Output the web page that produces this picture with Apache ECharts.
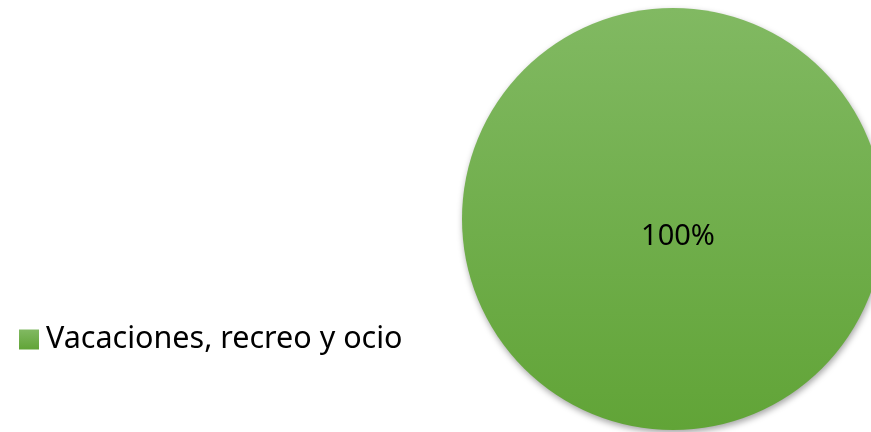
<!DOCTYPE html>
<html>
<head>
<meta charset="utf-8">
<script src="https://cdn.jsdelivr.net/npm/echarts@6/dist/echarts.min.js"></script>
<style>
  html, body { margin: 0; padding: 0; background: #fff; }
  #chart { width: 871px; height: 432px; }
</style>
</head>
<body>
<div id="chart"></div>
<script>
// data
const categories = ['Vacaciones, recreo y ocio'];
const values = [100];
const labels = ['100%'];

const chart = echarts.init(document.getElementById('chart'));

const green = new echarts.graphic.LinearGradient(0, 0, 0, 1, [
  { offset: 0, color: 'rgb(129,185,98)' },
  { offset: 1, color: 'rgb(97,164,55)' }
]);

const options = {
  animation: false,
  legend: {
    orient: 'vertical',
    left: 14,
    top: 319,
    icon: 'rect',
    itemWidth: 20,
    itemHeight: 20,
    itemGap: 10,
    data: categories,
    textStyle: {
      fontFamily: 'Noto Sans',
      fontSize: 30.5,
      color: '#000',
      padding: [0, 0, 0, 2]
    }
  },
  series: [
    {
      type: 'pie',
      center: [673, 219],
      radius: 211,
      startAngle: 90,
      label: {
        show: true,
        position: 'center',
        // empty first line pushes the value a bit below the centre, as in the source
        formatter: (p) => '{pad|}\n{v|' + labels[p.dataIndex] + '}',
        rich: {
          pad: { lineHeight: 36, fontSize: 28 },
          v: {
            lineHeight: 36,
            fontFamily: 'Noto Sans',
            fontSize: 29,
            color: '#000',
            padding: [0, 0, 0, 10]
          }
        }
      },
      labelLine: { show: false },
      emphasis: { disabled: true },
      itemStyle: {
        color: green,
        shadowBlur: 6,
        shadowOffsetX: 1,
        shadowOffsetY: 3,
        shadowColor: 'rgba(0,0,0,0.35)'
      },
      data: categories.map((name, i) => ({ name: name, value: values[i] }))
    }
  ]
};

chart.setOption(options);
</script>
</body>
</html>
